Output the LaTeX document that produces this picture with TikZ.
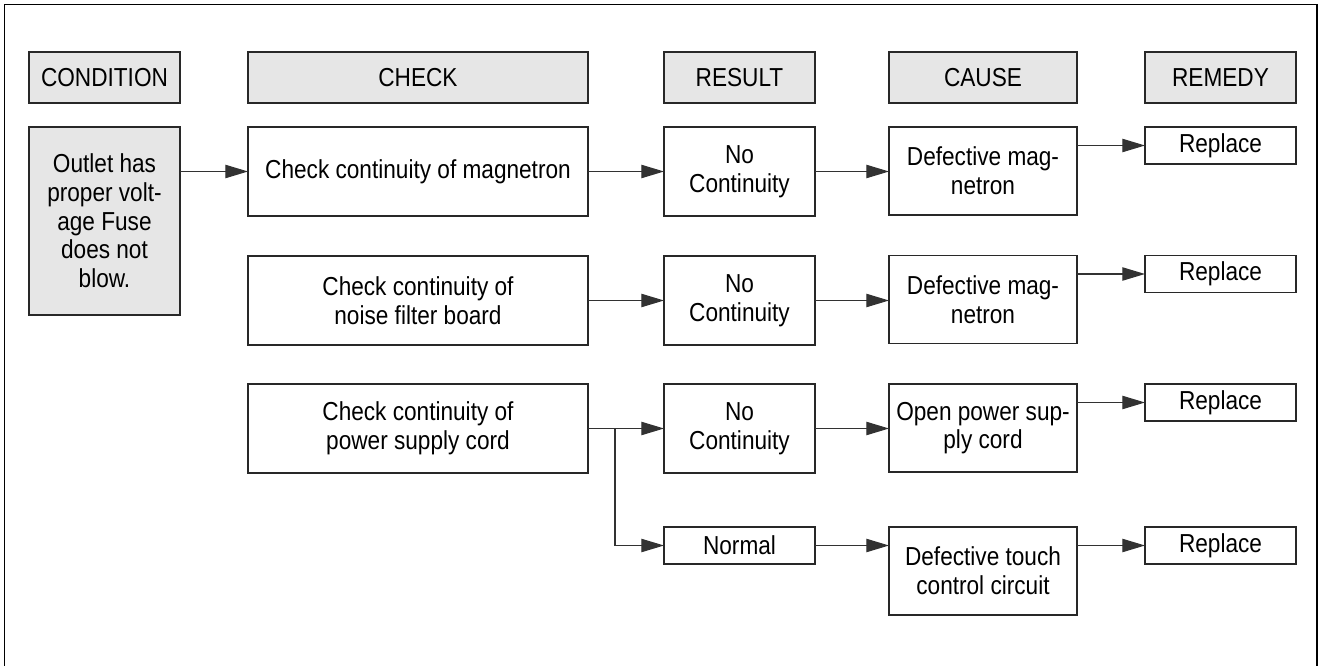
\documentclass[tikz,border=0pt]{standalone}
\usepackage{fontspec}
\setmainfont{Liberation Sans}[FakeStretch=0.87]
\usepackage{tikz}
\usetikzlibrary{arrows.meta}
\tikzset{every picture/.style={line width=0.75pt}}
\definecolor{hdrfill}{RGB}{230,230,230}
\definecolor{edgegray}{RGB}{40,40,40}
\definecolor{linegray}{RGB}{50,50,50}
\newcommand\tablefont{\fontsize{19.5}{21.5}\selectfont}

\begin{document}
\begin{tikzpicture}[x=0.75pt,y=0.75pt,yscale=-1,xscale=1,
  hdr/.style={draw=edgegray, fill=hdrfill, line width=1.1pt, inner sep=0pt, outer sep=0pt, minimum height=38.25pt, font=\tablefont},
  box/.style={draw=edgegray, fill=white, line width=1.1pt, inner sep=0pt, outer sep=0pt, align=center, font=\tablefont},
  colw/.style={minimum width=#1*0.75pt},
  rowh/.style={minimum height=#1*0.75pt},
  flow/.style={draw=linegray, line width=0.9pt, -{Triangle[length=17pt,width=10pt]}}]
\useasboundingbox (0,0) rectangle (1321,666);

%Frame (open at the bottom)
\draw [black, line width=1.3pt] (4.5,666) -- (4.5,4.5) -- (1317,4.5) -- (1317,666) ;

%Column headers
\node [hdr, colw=151] (hcond) at (104.5,77.5) {CONDITION};
\node [hdr, colw=340] (hcheck) at (418,77.5) {CHECK};
\node [hdr, colw=151] (hresult) at (739.5,77.5) {RESULT};
\node [hdr, colw=188] (hcause) at (983,77.5) {CAUSE};
\node [hdr, colw=151] (hremedy) at (1220.5,77.5) {REMEDY};

%Condition
\node [box, fill=hdrfill, colw=151, rowh=188] (cond) at (104.5,221) {Outlet has\\proper volt-\\age Fuse\\does not\\blow.};

%Checks
\node [box, colw=340, rowh=89] (check1) at (418,171.5) {Check continuity of magnetron};
\node [box, colw=340, rowh=89] (check2) at (418,300.5) {Check continuity of\\noise filter board};
\node [box, colw=340, rowh=89] (check3) at (418,428.5) {Check continuity of\\power supply cord};

%Results
\node [box, colw=151, rowh=89] (result1) at (739.5,171.5) {No\\Continuity};
\node [box, colw=151, rowh=89] (result2) at (739.5,300.5) {No\\Continuity};
\node [box, colw=151, rowh=89] (result3) at (739.5,428.5) {No\\Continuity};
\node [box, colw=151, rowh=37] (normal) at (739.5,545.5) {Normal};

%Causes
\node [box, colw=188, rowh=88] (cause1) at (983,171) {Defective mag-\\netron};
\node [box, colw=188, rowh=88] (cause2) at (983,299.5) {Defective mag-\\netron};
\node [box, colw=188, rowh=88] (cause3) at (983,428) {Open power sup-\\ply cord};
\node [box, colw=188, rowh=88] (cause4) at (983,571) {Defective touch\\control circuit};

%Remedies
\node [box, colw=151, rowh=37] (rep1) at (1220.5,145.5) {Replace};
\node [box, colw=151, rowh=37] (rep2) at (1220.5,274) {Replace};
\node [box, colw=151, rowh=37] (rep3) at (1220.5,402.5) {Replace};
\node [box, colw=151, rowh=37] (rep4) at (1220.5,545.5) {Replace};

%Connectors
\draw [flow] (cond.east |- check1) -- (check1.west) ;
\foreach \i in {1,2,3} {
  \draw [flow] (check\i.east) -- (result\i.west) ;
  \draw [flow] (result\i.east) -- (cause\i.west |- result\i.east) ;
}
\coordinate (split) at (615,428.5) ;
\draw [flow] (split) |- (normal.west) ;
\draw [flow] (normal.east) -- (cause4.west |- normal.east) ;
\foreach \i in {1,2,3,4}
  \draw [flow] (cause\i.east |- rep\i.west) -- (rep\i.west) ;
\end{tikzpicture}
\end{document}
